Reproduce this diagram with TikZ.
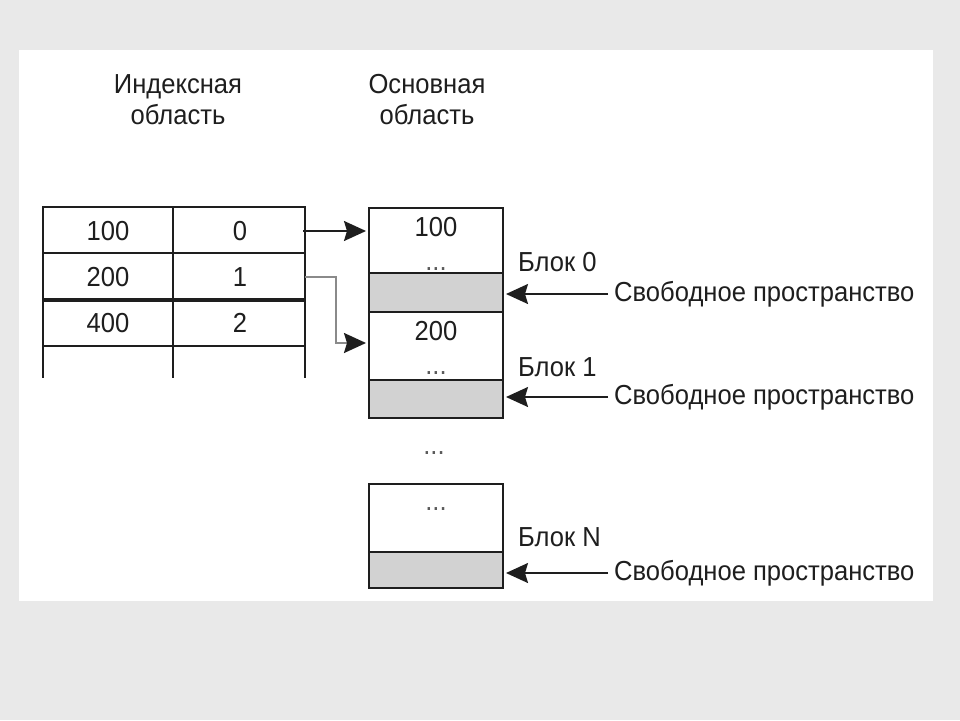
\documentclass[tikz,border=0pt]{standalone}
\usepackage{fontspec}
\setmainfont{Liberation Sans}[FakeStretch=0.93]
\usetikzlibrary{arrows.meta}
\definecolor{bgout}{HTML}{E9E9E9}
\definecolor{freegray}{HTML}{D2D2D2}
\definecolor{txt}{HTML}{1E1E1E}
\definecolor{dotgray}{HTML}{5A5A5A}
\definecolor{arrgray}{HTML}{8A8A8A}
\tikzset{
  lbl/.style={inner sep=0pt, text=txt, font=\fontsize{27.5}{31}\selectfont},
  dots/.style={lbl, text=dotgray},
  hdr/.style={lbl, align=center},
  tline/.style={line width=2pt, draw=txt},
  whitebox/.style={draw=txt, line width=2pt, fill=white, minimum width=134pt, inner sep=0pt},
  graybox/.style={draw=txt, line width=2pt, fill=freegray, minimum width=134pt, inner sep=0pt},
  arr/.style={line width=1.8pt, draw=txt, -{Stealth[length=22pt,width=20pt,inset=3pt]}},
  garr/.style={line width=2pt, draw=arrgray, -{Stealth[length=22pt,width=20pt,inset=3pt,color=txt]}},
}
\begin{document}
\begin{tikzpicture}[x=1pt,y=-1pt]
\useasboundingbox (0,0) rectangle (960,720);
\fill[bgout] (0,0) rectangle (960,720);
\fill[white] (19,50) rectangle (933,601);

% headers
\node[hdr] (hidx) at (178,100) {Индексная\\область};
\node[hdr] (hmain) at (427,100) {Основная\\область};

% index table
\draw[tline] (43,207) -- (305,207);
\draw[tline] (43,253) -- (305,253);
\draw[line width=4pt, draw=txt] (43,300) -- (305,300);
\draw[tline] (43,346) -- (305,346);
\draw[tline] (43,206) -- (43,378);
\draw[tline] (173,206) -- (173,378);
\draw[tline] (305,206) -- (305,378);

\node[lbl] (k0) at (108,231) {100};
\node[lbl] (v0) at (240,231) {0};
\node[lbl] (k1) at (108,277) {200};
\node[lbl] (v1) at (240,277) {1};
\node[lbl] (k2) at (108,323) {400};
\node[lbl] (v2) at (240,323) {2};
\coordinate (r0) at (303,231);
\coordinate (r1) at (305,277);

% main area blocks
\node[whitebox, minimum height=65pt] (b0) at (436,240.5) {};
\node[graybox, minimum height=39pt] (f0) at (436,292.5) {};
\node[whitebox, minimum height=68pt] (b1) at (436,346) {};
\node[graybox, minimum height=38pt] (f1) at (436,399) {};
\node[whitebox, minimum height=68pt] (bn) at (436,518) {};
\node[graybox, minimum height=36pt] (fn) at (436,570) {};

\node[lbl] (t0) at (436,227) {100};
\node[dots, anchor=base] (d0) at (436,270) {...};
\node[lbl] (t1) at (436,331) {200};
\node[dots, anchor=base] (d1) at (436,374) {...};
\node[dots, anchor=base] (dm) at (434,454) {...};
\node[dots, anchor=base] (dn) at (436,510) {...};

\node[lbl, anchor=west] (bl0) at (518,262) {Блок 0};
\node[lbl, anchor=west] (bl1) at (518,367) {Блок 1};
\node[lbl, anchor=west] (bln) at (518,537) {Блок N};

\node[lbl, anchor=west] (s0) at (614,294) {Свободное пространство};
\node[lbl, anchor=west] (s1) at (614,397) {Свободное пространство};
\node[lbl, anchor=west] (sn) at (614,573) {Свободное пространство};
\coordinate (e0) at (608,294);
\coordinate (e1) at (608,397);
\coordinate (en) at (608,573);

% connectors
\draw[arr] (r0) -- ([xshift=-2pt]b0.west |- r0);
\draw[garr] (r1) -- (336,277) |- ([xshift=-2pt]b1.west |- 0,343);
\draw[arr] (e0) -- ([xshift=2pt]f0.east |- e0);
\draw[arr] (e1) -- ([xshift=2pt]f1.east |- e1);
\draw[arr] (en) -- ([xshift=2pt]fn.east |- en);
\end{tikzpicture}
\end{document}
